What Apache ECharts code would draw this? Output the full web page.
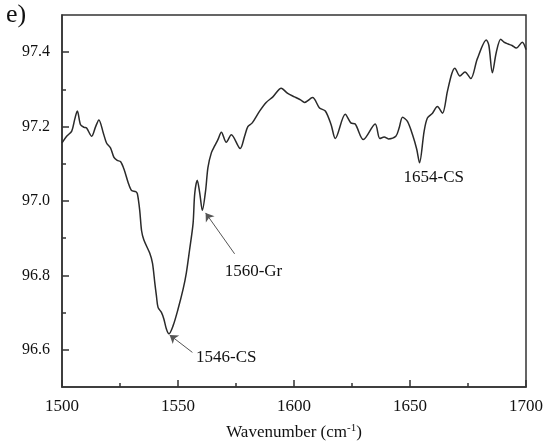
<!DOCTYPE html>
<html>
<head>
<meta charset="utf-8">
<script src="https://cdn.jsdelivr.net/npm/echarts@6/dist/echarts.min.js"></script>
<style>html,body{margin:0;padding:0;background:#fff;}#c{width:546px;height:446px;}</style>
</head>
<body>
<div id="c"></div>
<script>
// Data
var wavenumbers = [1500,1502,1504.2,1505.5,1506.6,1508,1509.5,1510.6,1512.8,1514.5,1515.9,1517.8,1519.2,1520.9,1522.4,1523.8,1525.2,1526.7,1528.5,1530,1531.8,1532.5,1533.5,1534.3,1535.3,1537.8,1539,1540,1540.7,1541.4,1542.9,1543.9,1545,1546.1,1547.9,1550,1552.2,1553.6,1555,1556.5,1557.2,1558.3,1559.4,1560.5,1561.9,1562.9,1564.4,1565.8,1567.2,1568.7,1570.8,1573,1576.8,1578.7,1580.1,1582,1585.1,1588,1590.9,1594.5,1597.3,1600.2,1603,1604.5,1608,1611,1613.5,1616,1617.8,1622.1,1624.5,1626.4,1629.9,1635,1637,1638.9,1640.7,1643.9,1645.3,1646.8,1648.9,1651.1,1652.9,1654.1,1656.1,1657.5,1659.7,1661.8,1664,1666.1,1668,1669.3,1671.5,1673.7,1676.2,1679,1682.9,1684,1685.5,1687.2,1689.1,1690.5,1692.3,1694,1695.8,1698.4,1700];
var transmittance = [97.156,97.174,97.188,97.22,97.242,97.205,97.198,97.196,97.174,97.2,97.218,97.183,97.156,97.143,97.117,97.109,97.106,97.086,97.05,97.028,97.025,97.019,96.975,96.92,96.895,96.86,96.833,96.78,96.745,96.714,96.7,96.683,96.656,96.643,96.665,96.709,96.763,96.807,96.869,96.94,97.019,97.056,97.02,96.975,97.028,97.09,97.13,97.148,97.165,97.185,97.158,97.178,97.141,97.174,97.2,97.21,97.241,97.265,97.28,97.303,97.289,97.28,97.271,97.265,97.278,97.25,97.242,97.205,97.168,97.233,97.21,97.207,97.165,97.207,97.168,97.172,97.167,97.174,97.196,97.225,97.214,97.178,97.139,97.103,97.188,97.223,97.236,97.254,97.236,97.294,97.342,97.357,97.336,97.347,97.329,97.382,97.433,97.418,97.345,97.4,97.435,97.427,97.422,97.418,97.411,97.427,97.407];

var yTickLabels = [96.6, 96.8, 97.0, 97.2, 97.4];
var yMinorTicks = [96.7, 96.9, 97.1, 97.3];

// Annotations
var annotLabels = ['1546-CS', '1560-Gr', '1654-CS'];
var annotTail = [[1556.2, 96.593], [1574.4, 96.858], null];
var annotTip = [[1546.4, 96.640], [1561.9, 96.968], null];
var annotText = [[1557.8, 96.58], [1570.1, 96.81], [1647.2, 97.063]];

var seriesData = wavenumbers.map(function (w, i) { return [w, transmittance[i]]; });

var lineData = [];
for (var i = 0; i < annotLabels.length; i++) {
  if (annotTail[i]) lineData.push([{ coord: annotTail[i] }, { coord: annotTip[i] }]);
}
var pointData = annotLabels.map(function (t, i) {
  return { coord: annotText[i], value: t, label: { formatter: t } };
});

var font = '"Liberation Serif", "Times New Roman", serif';
var axisColor = '#333';

var chart = echarts.init(document.getElementById('c'), null, { renderer: 'canvas' });
chart.setOption({
  animation: false,
  backgroundColor: '#fff',
  grid: { left: 62, right: 19, top: 15, bottom: 55, show: true, borderColor: axisColor, borderWidth: 1.5, backgroundColor: 'transparent' },
  graphic: [{ type: 'text', left: 6, top: 2, style: { text: 'e)', font: '26px ' + font, fill: '#111' } }],
  xAxis: {
    type: 'value', min: 1500, max: 1700, interval: 50,
    name: '{a|Wavenumber (cm}{s|-1}{a|)}', nameLocation: 'middle', nameGap: 36,
    nameTextStyle: { rich: { a: { fontFamily: font, fontSize: 17, color: '#111' }, s: { fontFamily: font, fontSize: 11, color: '#111', verticalAlign: 'top', padding: [0, 0, 8, 0] } } },
    axisLine: { show: true, lineStyle: { color: axisColor, width: 1.5 } },
    axisTick: { show: true, inside: true, length: 7, lineStyle: { color: axisColor, width: 1.5 } },
    minorTick: { show: true, splitNumber: 2, length: 4, lineStyle: { color: axisColor, width: 1.5 } },
    splitLine: { show: false },
    axisLabel: { fontFamily: font, fontSize: 17, color: '#111', margin: 11, formatter: function (v) { return String(v); } }
  },
  yAxis: [{
    type: 'value', min: 96.5, max: 97.5, position: 'left',
    axisLine: { show: true, lineStyle: { color: axisColor, width: 1.5 } },
    axisTick: { show: true, inside: true, length: 7, customValues: yTickLabels, lineStyle: { color: axisColor, width: 1.5 } },
    splitLine: { show: false },
    axisLabel: { fontFamily: font, fontSize: 16, color: '#111', margin: 12, customValues: yTickLabels, formatter: function (v) { return v.toFixed(1); } }
  }, {
    type: 'value', min: 96.5, max: 97.5, position: 'left',
    axisLine: { show: false },
    axisTick: { show: true, inside: true, length: 4, customValues: yMinorTicks, lineStyle: { color: axisColor, width: 1.5 } },
    splitLine: { show: false },
    axisLabel: { show: false }
  }],
  series: [{
    type: 'line', data: seriesData, showSymbol: false, smooth: 0.3,
    lineStyle: { color: '#2a2a2a', width: 1.5 },
    markLine: {
      silent: true, symbol: ['none', 'arrow'], symbolSize: 8,
      lineStyle: { color: '#555', width: 1, type: 'solid' },
      label: { show: false },
      data: lineData
    },
    markPoint: {
      silent: true, symbol: 'circle', symbolSize: 0,
      label: { show: true, position: 'right', distance: 0, fontFamily: font, fontSize: 17, color: '#111' },
      data: pointData
    }
  }]
});
</script>
</body>
</html>
